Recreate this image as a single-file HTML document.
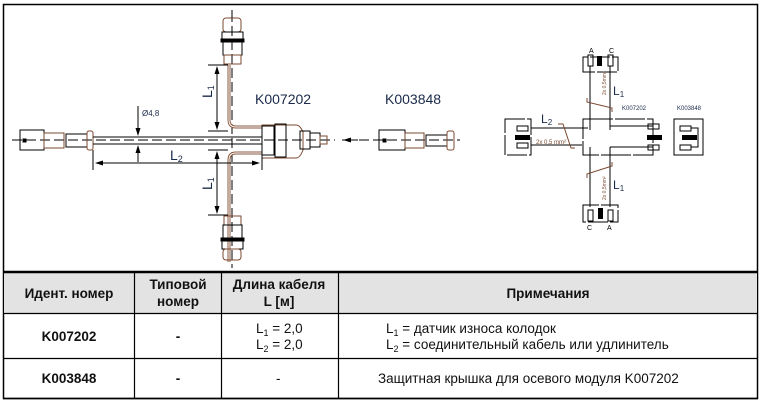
<!DOCTYPE html>
<html><head><meta charset="utf-8"><style>
html,body{margin:0;padding:0;background:#fff}
svg{display:block}
text{font-family:"Liberation Sans",sans-serif}
</style></head><body>
<svg width="762" height="406" viewBox="0 0 762 406" xmlns="http://www.w3.org/2000/svg">
<!-- outer frame -->
<rect x="3.5" y="4.5" width="754" height="394" fill="none" stroke="#000" stroke-width="1.5"/>
<!-- header -->
<rect x="4" y="272" width="753" height="41" fill="#e3e3e3"/>
<line x1="3" y1="272" x2="758" y2="272" stroke="#000" stroke-width="2.5"/>
<line x1="3" y1="313.5" x2="758" y2="313.5" stroke="#000" stroke-width="1.2"/>
<line x1="3" y1="358.5" x2="758" y2="358.5" stroke="#000" stroke-width="1.2"/>
<line x1="3" y1="398.5" x2="758" y2="398.5" stroke="#000" stroke-width="1.5"/>
<g stroke="#000" stroke-width="1.2">
<line x1="134.5" y1="272" x2="134.5" y2="398"/>
<line x1="221.5" y1="272" x2="221.5" y2="398"/>
<line x1="338.5" y1="272" x2="338.5" y2="398"/>
</g>
<g font-weight="bold" font-size="13.5" text-anchor="middle" fill="#111">
<text x="69" y="298">Идент. номер</text>
<text x="178" y="289">Типовой</text>
<text x="178" y="306">номер</text>
<text x="279" y="289">Длина кабеля</text>
<text x="279" y="306">L [м]</text>
<text x="548" y="298">Примечания</text>
<text x="69" y="341">K007202</text>
<text x="178" y="341">-</text>
<text x="69" y="383">K003848</text>
<text x="178" y="383">-</text>
</g>
<g font-size="13.5" fill="#111">
<text x="256" y="333">L<tspan font-size="9" dy="3">1</tspan><tspan dy="-3"> = 2,0</tspan></text>
<text x="256" y="349">L<tspan font-size="9" dy="3">2</tspan><tspan dy="-3"> = 2,0</tspan></text>
<text x="276" y="383">-</text>
<text x="386" y="333">L<tspan font-size="9" dy="3">1</tspan><tspan dy="-3"> = датчик износа колодок</tspan></text>
<text x="386" y="349">L<tspan font-size="9" dy="3">2</tspan><tspan dy="-3"> = соединительный кабель или удлинитель</tspan></text>
<text x="378" y="383">Защитная крышка для осевого модуля K007202</text>
</g>

<!-- LEFT DRAWING -->
<g fill="none" stroke="#000" stroke-width="1">
<!-- centerline -->
<line x1="12" y1="140" x2="335" y2="140" stroke-dasharray="10,4"/>
<line x1="345" y1="140" x2="460" y2="140" stroke-dasharray="10,4"/>
<line x1="232" y1="12" x2="232" y2="268" stroke-dasharray="10,4"/>
<!-- left connector -->
<rect x="20" y="130" width="24" height="20"/>
<rect x="44" y="133" width="20" height="15" stroke="#7a4a30"/>
<rect x="66" y="134" width="21" height="13"/>
<rect x="87" y="131" width="6" height="19" rx="2" stroke="#7a4a30"/>
<rect x="23" y="139" width="3" height="3" fill="#000"/>
<!-- main cable -->
<line x1="93" y1="137" x2="262" y2="137"/>
<line x1="93" y1="144" x2="262" y2="144"/>
<!-- vertical cables -->
<path d="M229 65 V120 Q229 127 236 127 H262" stroke="#8a5a40" stroke-width="3"/>
<path d="M229 65 V120 Q229 127 236 127 H262" stroke="#fff" stroke-width="1"/>
<path d="M229 262 V160 Q229 153 236 153 H262" stroke="#8a5a40" stroke-width="3"/>
<path d="M229 262 V160 Q229 153 236 153 H262" stroke="#fff" stroke-width="1"/>
<!-- body -->
<path d="M262 125 H296 Q300 125 303 132 V150 Q300 158 296 158 H262 Z" stroke="#7a4a30"/>
<rect x="262" y="126" width="12" height="29"/>
<rect x="275" y="124" width="11" height="33"/>
<rect x="300" y="131" width="10" height="18"/>
<rect x="310" y="133" width="10" height="14"/>
<rect x="320" y="136" width="7" height="8" stroke="#7a4a30"/>
<!-- top connector -->
<rect x="223" y="18" width="18" height="14" rx="3" stroke="#7a4a30"/>
<rect x="222" y="32" width="21" height="7"/>
<rect x="221" y="39" width="23" height="3" fill="#000"/>
<rect x="223" y="42" width="19" height="13"/>
<rect x="224" y="55" width="17" height="9" stroke="#7a4a30"/>
<line x1="232" y1="10" x2="232" y2="18"/>
<!-- bottom connector -->
<rect x="224" y="216" width="17" height="9" stroke="#7a4a30"/>
<rect x="223" y="225" width="19" height="13"/>
<rect x="221" y="238" width="23" height="3" fill="#000"/>
<rect x="222" y="241" width="21" height="8"/>
<rect x="223" y="249" width="18" height="11" rx="3" stroke="#7a4a30"/>
<!-- right cap K003848 -->
<rect x="379" y="130" width="26" height="20"/>
<rect x="405" y="133" width="19" height="15" stroke="#7a4a30"/>
<rect x="426" y="135" width="21" height="11"/>
<rect x="447" y="131" width="7" height="19" rx="2" stroke="#7a4a30"/>
<rect x="383" y="139" width="3" height="3" fill="#000"/>
<!-- dims -->
<line x1="93" y1="150" x2="93" y2="170"/>
<line x1="262" y1="150" x2="262" y2="170"/>
<line x1="97" y1="163" x2="258" y2="163"/>
<line x1="208" y1="65" x2="228" y2="65"/>
<line x1="208" y1="131" x2="228" y2="131"/>
<line x1="217" y1="68" x2="217" y2="128"/>
<line x1="208" y1="150" x2="228" y2="150"/>
<line x1="208" y1="215" x2="228" y2="215"/>
<line x1="217" y1="153" x2="217" y2="212"/>
<line x1="138" y1="106" x2="138" y2="134"/>
<line x1="138" y1="147" x2="138" y2="162"/>
<line x1="342" y1="140" x2="358" y2="140"/>
</g>
<g fill="#000">
<path d="M95 163 l8 -2.5 v5z"/><path d="M260 163 l-8 -2.5 v5z"/>
<path d="M217 66 l-2.5 8 h5z"/><path d="M217 130 l-2.5 -8 h5z"/>
<path d="M217 151 l-2.5 8 h5z"/><path d="M217 214 l-2.5 -8 h5z"/>
<path d="M138 136 l-2.5 -8 h5z"/><path d="M138 145 l-2.5 8 h5z"/>
<path d="M343 140 l8 -2.5 v5z"/>
</g>
<g fill="#1a2a4a">
<text x="255" y="104" font-size="14">K007202</text>
<text x="385" y="104" font-size="14">K003848</text>
<text x="142" y="116" font-size="8">Ø4,8</text>
<text x="170" y="160" font-size="14">L<tspan font-size="9" dy="2">2</tspan></text>
<text x="212" y="98" font-size="14" transform="rotate(-90 212 98)">L<tspan font-size="9" dy="2">1</tspan></text>
<text x="212" y="190" font-size="14" transform="rotate(-90 212 190)">L<tspan font-size="9" dy="2">1</tspan></text>
</g>

<!-- RIGHT SCHEMATIC -->
<g fill="none" stroke="#000" stroke-width="1">
<path d="M583 72 V57 H618 V72 Z" stroke-dasharray="20,2"/>
<rect x="588" y="55" width="5" height="11"/>
<rect x="608" y="55" width="5" height="11"/>
<line x1="590" y1="66" x2="590" y2="130"/>
<line x1="610" y1="66" x2="610" y2="130"/>
<rect x="583" y="119" width="70" height="36" stroke-dasharray="30,2"/>
<line x1="531" y1="128" x2="588" y2="128"/>
<line x1="531" y1="145" x2="582" y2="145"/>
<line x1="610" y1="126" x2="653" y2="126"/>
<line x1="610" y1="147" x2="653" y2="147"/>
<line x1="590" y1="147" x2="590" y2="207"/>
<line x1="610" y1="147" x2="610" y2="207"/>
<rect x="505" y="119" width="26" height="36" stroke-dasharray="20,2"/>
<rect x="517" y="126" width="11" height="5"/>
<rect x="517" y="143" width="11" height="5"/>
<rect x="648" y="124" width="11" height="5"/>
<rect x="648" y="145" width="11" height="5"/>
<rect x="674" y="119" width="29" height="36"/>
<rect x="680" y="126" width="11" height="5"/>
<rect x="680" y="145" width="11" height="5"/>
<path d="M691 128 H698 V147 H691"/>
<path d="M583 205 V222 H618 V205 Z" stroke-dasharray="20,2"/>
<rect x="588" y="210" width="5" height="11"/>
<rect x="608" y="210" width="5" height="11"/>
</g>
<g fill="#000">
<rect x="597" y="56" width="5" height="10"/>
<rect x="598" y="208" width="5" height="11"/>
<rect x="515" y="135" width="15" height="5"/>
<rect x="647" y="135" width="15" height="5"/>
<rect x="682" y="135" width="15" height="5"/>
</g>
<g fill="none" stroke="#7a4a30" stroke-width="1">
<path d="M587 98 V102 L612 108 V112"/>
<path d="M587 178 V174 L612 166 V162"/>
<path d="M558 124 H563 L571 148 H575"/>
</g>
<g font-size="7" fill="#000">
<text x="589" y="53">A</text><text x="609" y="53">C</text>
<text x="587" y="230">C</text><text x="607" y="230">A</text>
</g>
<g font-size="6" fill="#1a2a4a">
<text x="622" y="110">K007202</text>
<text x="677" y="110">K003848</text>
</g>
<g fill="#1a2a4a">
<text x="613" y="95" font-size="12">L<tspan font-size="8" dy="2">1</tspan></text>
<text x="613" y="189" font-size="12">L<tspan font-size="8" dy="2">1</tspan></text>
<text x="541" y="123" font-size="12">L<tspan font-size="8" dy="2">2</tspan></text>
</g>
<text x="536" y="144" font-size="6" fill="#7a4a30">2x 0,5 mm²</text>
<text x="606" y="95" font-size="5" fill="#7a4a30" transform="rotate(-90 606 95)">2x 0,5mm²</text>
<text x="606" y="200" font-size="5" fill="#7a4a30" transform="rotate(-90 606 200)">2x 0,5mm²</text>
</svg>
</body></html>
